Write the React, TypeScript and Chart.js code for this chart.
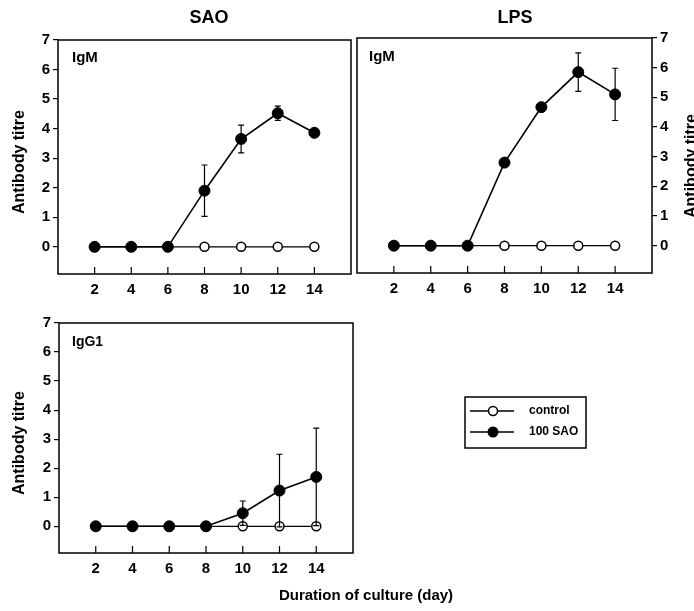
import React, { useEffect, useRef } from "react";
import { Chart, registerables } from "chart.js";
Chart.register(...registerables);

const days = [2, 4, 6, 8, 10, 12, 14];
const xTicks = [2, 4, 6, 8, 10, 12, 14];
const yTicks = [0, 1, 2, 3, 4, 5, 6, 7];

const saoIgmControl = [0, 0, 0, 0, 0, 0, 0];
const saoIgmTreated = [0, 0, 0, 1.9, 3.65, 4.52, 3.86];
const saoIgmErr = [0, 0, 0, 0.87, 0.47, 0.24, 0.08];

const lpsIgmControl = [0, 0, 0, 0, 0, 0, 0];
const lpsIgmTreated = [0, 0, 0, 2.8, 4.67, 5.85, 5.1];
const lpsIgmErr = [0, 0, 0, 0.1, 0.07, 0.65, 0.88];

const igg1Control = [0, 0, 0, 0, 0, 0, 0];
const igg1Treated = [0, 0, 0, 0, 0.45, 1.23, 1.7];
const igg1Err = [0, 0, 0, 0, 0.42, 1.25, 1.68];

const legendLabels = ["control", "100 SAO"];

const FONT = '"Liberation Sans", Arial, Helvetica, sans-serif';

type TextItem = { text: string; x: number; y: number; size: number; align?: CanvasTextAlign; rotate?: boolean };

type PanelProps = {
  left: number;
  top: number;
  width: number;
  height: number;
  area: { left: number; right: number; top: number; bottom: number };
  yPos: "left" | "right";
  control: number[];
  treated: number[];
  err: number[];
  texts: TextItem[];
  legend?: { x0: number; y0: number; x1: number; y1: number };
};

function Panel(props: PanelProps) {
  const ref = useRef<HTMLCanvasElement | null>(null);
  useEffect(() => {
    const canvas = ref.current;
    if (!canvas) return;
    const { width, height, area, yPos, control, treated, err, texts, legend } = props;
    const yW = yPos === "left" ? area.left : width - area.right;
    const padL = yPos === "left" ? 0 : area.left;
    const padR = yPos === "left" ? width - area.right : 0;
    const xH = height - area.bottom;

    const decor = {
      id: "decor",
      afterDatasetsDraw(chart: any) {
        const ctx = chart.ctx;
        const xs = chart.scales.x;
        const ys = chart.scales.y;
        ctx.save();
        ctx.strokeStyle = "#000";
        ctx.lineWidth = 1.2;
        for (let i = 0; i < days.length; i++) {
          const e = err[i];
          if (!e) continue;
          const x = xs.getPixelForValue(days[i]);
          const yt = ys.getPixelForValue(treated[i] + e);
          const yb = ys.getPixelForValue(treated[i] - e);
          ctx.beginPath();
          ctx.moveTo(x, yt);
          ctx.lineTo(x, yb);
          ctx.moveTo(x - 3, yt);
          ctx.lineTo(x + 3, yt);
          ctx.moveTo(x - 3, yb);
          ctx.lineTo(x + 3, yb);
          ctx.stroke();
        }
        ctx.restore();
      },
      afterDraw(chart: any) {
        const ctx = chart.ctx;
        const ca = chart.chartArea;
        const xs = chart.scales.x;
        ctx.save();
        ctx.strokeStyle = "#000";
        ctx.lineWidth = 1.5;
        ctx.strokeRect(ca.left, ca.top, ca.right - ca.left, ca.bottom - ca.top);
        ctx.lineWidth = 1.2;
        ctx.beginPath();
        for (const v of xTicks) {
          const x = xs.getPixelForValue(v);
          ctx.moveTo(x, ca.bottom);
          ctx.lineTo(x, ca.bottom - 7);
        }
        ctx.stroke();
        ctx.fillStyle = "#000";
        for (const t of texts) {
          ctx.font = `bold ${t.size}px ${FONT}`;
          ctx.textBaseline = "middle";
          ctx.textAlign = t.align || "center";
          if (t.rotate) {
            ctx.save();
            ctx.translate(t.x, t.y);
            ctx.rotate(-Math.PI / 2);
            ctx.fillText(t.text, 0, 0);
            ctx.restore();
          } else {
            ctx.fillText(t.text, t.x, t.y);
          }
        }
        if (legend) {
          ctx.lineWidth = 1.5;
          ctx.strokeRect(legend.x0, legend.y0, legend.x1 - legend.x0, legend.y1 - legend.y0);
          const rows = [legend.y0 + 14, legend.y0 + 35];
          rows.forEach((ry, k) => {
            ctx.lineWidth = 1.3;
            ctx.beginPath();
            ctx.moveTo(legend.x0 + 5, ry);
            ctx.lineTo(legend.x0 + 49, ry);
            ctx.stroke();
            ctx.beginPath();
            if (k === 0) {
              ctx.arc(legend.x0 + 28, ry, 4.5, 0, Math.PI * 2);
              ctx.fillStyle = "#fff";
              ctx.fill();
              ctx.lineWidth = 1.5;
              ctx.stroke();
            } else {
              ctx.arc(legend.x0 + 28, ry, 5.5, 0, Math.PI * 2);
              ctx.fillStyle = "#000";
              ctx.fill();
            }
            ctx.fillStyle = "#000";
            ctx.font = `bold 12px ${FONT}`;
            ctx.textAlign = "left";
            ctx.textBaseline = "middle";
            ctx.fillText(legendLabels[k], legend.x0 + 64, ry);
          });
        }
        ctx.restore();
      },
    };

    const tickFont = { family: FONT, size: 15, weight: "bold" as const };
    const chart = new Chart(canvas, {
      type: "line",
      data: {
        datasets: [
          {
            label: legendLabels[1],
            data: days.map((d, i) => ({ x: d, y: treated[i] })),
            borderColor: "#000",
            borderWidth: 1.6,
            pointRadius: 5.5,
            pointBackgroundColor: "#000",
            pointBorderColor: "#000",
            pointBorderWidth: 1,
            tension: 0,
          },
          {
            label: legendLabels[0],
            data: days.map((d, i) => ({ x: d, y: control[i] })),
            borderColor: "#000",
            borderWidth: 1.3,
            pointRadius: 4.5,
            pointBackgroundColor: "#fff",
            pointBorderColor: "#000",
            pointBorderWidth: 1.5,
            tension: 0,
          },
        ],
      },
      options: {
        responsive: false,
        animation: false,
        devicePixelRatio: 1,
        layout: { padding: { left: padL, right: padR, top: area.top, bottom: 0 } },
        plugins: { legend: { display: false }, tooltip: { enabled: false } },
        scales: {
          x: {
            type: "linear",
            min: 0,
            max: 16,
            afterBuildTicks: (s: any) => {
              s.ticks = xTicks.map((v) => ({ value: v }));
            },
            afterFit: (s: any) => {
              s.height = xH;
            },
            grid: { display: false, drawTicks: false },
            border: { display: false },
            ticks: { padding: 7, font: tickFont, color: "#000", autoSkip: false, maxRotation: 0 },
          },
          y: {
            type: "linear",
            position: yPos,
            min: -0.92,
            max: 7,
            afterBuildTicks: (s: any) => {
              s.ticks = yTicks.map((v) => ({ value: v }));
            },
            afterFit: (s: any) => {
              s.width = yW;
            },
            grid: { display: true, drawOnChartArea: false, drawTicks: true, tickLength: 5, color: "#000", lineWidth: 1.2 },
            border: { display: false },
            ticks: { padding: 3, font: tickFont, color: "#000", autoSkip: false },
          },
        },
      } as any,
      plugins: [decor],
    });
    return () => chart.destroy();
  }, []);
  return (
    <canvas
      ref={ref}
      width={props.width}
      height={props.height}
      style={{ position: "absolute", left: props.left, top: props.top, width: props.width, height: props.height }}
    />
  );
}

export default function App() {
  return (
    <div style={{ position: "fixed", left: 0, top: 0, width: 694, height: 611, background: "#fff", overflow: "hidden" }}>
      <Panel
        left={0}
        top={0}
        width={358}
        height={305}
        area={{ left: 58, right: 351, top: 40, bottom: 274 }}
        yPos="left"
        control={saoIgmControl}
        treated={saoIgmTreated}
        err={saoIgmErr}
        texts={[
          { text: "SAO", x: 209, y: 18, size: 18 },
          { text: "IgM", x: 72, y: 58, size: 15, align: "left" },
          { text: "Antibody titre", x: 20, y: 162, size: 16, rotate: true },
        ]}
      />
      <Panel
        left={340}
        top={0}
        width={354}
        height={305}
        area={{ left: 17, right: 312, top: 38, bottom: 273 }}
        yPos="right"
        control={lpsIgmControl}
        treated={lpsIgmTreated}
        err={lpsIgmErr}
        texts={[
          { text: "LPS", x: 175, y: 18, size: 18 },
          { text: "IgM", x: 29, y: 57, size: 15, align: "left" },
          { text: "Antibody titre", x: 352, y: 166, size: 16, rotate: true },
        ]}
      />
      <Panel
        left={0}
        top={300}
        width={694}
        height={311}
        area={{ left: 59, right: 353, top: 23, bottom: 253 }}
        yPos="left"
        control={igg1Control}
        treated={igg1Treated}
        err={igg1Err}
        texts={[
          { text: "IgG1", x: 72, y: 42, size: 14, align: "left" },
          { text: "Antibody titre", x: 20, y: 143, size: 16, rotate: true },
          { text: "Duration of culture (day)", x: 366, y: 296, size: 15 },
        ]}
        legend={{ x0: 465, y0: 97, x1: 586, y1: 148 }}
      />
    </div>
  );
}
